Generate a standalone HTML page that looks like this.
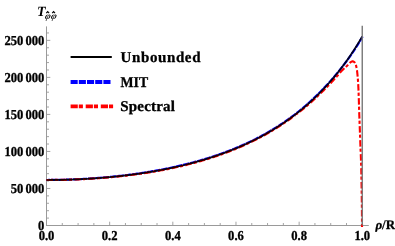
<!DOCTYPE html>
<html><head><meta charset="utf-8"><style>
html,body{margin:0;padding:0;background:#fff;}
svg{display:block;will-change:transform;}
text{font-family:"Liberation Serif",serif;font-weight:bold;fill:#000;text-rendering:geometricPrecision;}
</style></head><body>
<svg width="395" height="246" viewBox="0 0 395 246">
<rect width="395" height="246" fill="#fff"/>
<g stroke="#9a9a9a" stroke-width="1" fill="none">
<line x1="46.5" x2="46.5" y1="26.4" y2="225.5"/>
<line x1="46.0" x2="368.8" y1="225.5" y2="225.5"/>
</g>
<g stroke="#9a9a9a" stroke-width="0.9" fill="none">
<line x1="46.5" x2="50.3" y1="225.50" y2="225.50"/><line x1="46.5" x2="49.0" y1="218.09" y2="218.09"/><line x1="46.5" x2="49.0" y1="210.69" y2="210.69"/><line x1="46.5" x2="49.0" y1="203.28" y2="203.28"/><line x1="46.5" x2="49.0" y1="195.88" y2="195.88"/><line x1="46.5" x2="50.3" y1="188.47" y2="188.47"/><line x1="46.5" x2="49.0" y1="181.06" y2="181.06"/><line x1="46.5" x2="49.0" y1="173.66" y2="173.66"/><line x1="46.5" x2="49.0" y1="166.25" y2="166.25"/><line x1="46.5" x2="49.0" y1="158.85" y2="158.85"/><line x1="46.5" x2="50.3" y1="151.44" y2="151.44"/><line x1="46.5" x2="49.0" y1="144.03" y2="144.03"/><line x1="46.5" x2="49.0" y1="136.63" y2="136.63"/><line x1="46.5" x2="49.0" y1="129.22" y2="129.22"/><line x1="46.5" x2="49.0" y1="121.82" y2="121.82"/><line x1="46.5" x2="50.3" y1="114.41" y2="114.41"/><line x1="46.5" x2="49.0" y1="107.00" y2="107.00"/><line x1="46.5" x2="49.0" y1="99.60" y2="99.60"/><line x1="46.5" x2="49.0" y1="92.19" y2="92.19"/><line x1="46.5" x2="49.0" y1="84.79" y2="84.79"/><line x1="46.5" x2="50.3" y1="77.38" y2="77.38"/><line x1="46.5" x2="49.0" y1="69.97" y2="69.97"/><line x1="46.5" x2="49.0" y1="62.57" y2="62.57"/><line x1="46.5" x2="49.0" y1="55.16" y2="55.16"/><line x1="46.5" x2="49.0" y1="47.76" y2="47.76"/><line x1="46.5" x2="50.3" y1="40.35" y2="40.35"/><line x1="46.5" x2="49.0" y1="32.94" y2="32.94"/><line x1="46.50" x2="46.50" y1="225.5" y2="221.7"/><line x1="62.29" x2="62.29" y1="225.5" y2="223.0"/><line x1="78.08" x2="78.08" y1="225.5" y2="223.0"/><line x1="93.87" x2="93.87" y1="225.5" y2="223.0"/><line x1="109.66" x2="109.66" y1="225.5" y2="221.7"/><line x1="125.45" x2="125.45" y1="225.5" y2="223.0"/><line x1="141.24" x2="141.24" y1="225.5" y2="223.0"/><line x1="157.03" x2="157.03" y1="225.5" y2="223.0"/><line x1="172.82" x2="172.82" y1="225.5" y2="221.7"/><line x1="188.61" x2="188.61" y1="225.5" y2="223.0"/><line x1="204.40" x2="204.40" y1="225.5" y2="223.0"/><line x1="220.19" x2="220.19" y1="225.5" y2="223.0"/><line x1="235.98" x2="235.98" y1="225.5" y2="221.7"/><line x1="251.77" x2="251.77" y1="225.5" y2="223.0"/><line x1="267.56" x2="267.56" y1="225.5" y2="223.0"/><line x1="283.35" x2="283.35" y1="225.5" y2="223.0"/><line x1="299.14" x2="299.14" y1="225.5" y2="221.7"/><line x1="314.93" x2="314.93" y1="225.5" y2="223.0"/><line x1="330.72" x2="330.72" y1="225.5" y2="223.0"/><line x1="346.51" x2="346.51" y1="225.5" y2="223.0"/><line x1="362.30" x2="362.30" y1="225.5" y2="221.7"/>
</g>
<polyline points="46.50,179.98 47.55,179.98 48.61,179.97 49.66,179.96 50.71,179.95 51.76,179.95 52.82,179.93 53.87,179.92 54.92,179.91 55.97,179.89 57.03,179.87 58.08,179.85 59.13,179.83 60.18,179.81 61.24,179.79 62.29,179.76 63.34,179.73 64.39,179.70 65.45,179.67 66.50,179.64 67.55,179.61 68.60,179.57 69.66,179.54 70.71,179.50 71.76,179.46 72.81,179.42 73.87,179.38 74.92,179.33 75.97,179.29 77.02,179.24 78.08,179.19 79.13,179.14 80.18,179.09 81.23,179.03 82.29,178.98 83.34,178.92 84.39,178.86 85.44,178.80 86.50,178.74 87.55,178.67 88.60,178.61 89.65,178.54 90.70,178.47 91.76,178.40 92.81,178.33 93.86,178.26 94.91,178.18 95.97,178.10 97.02,178.02 98.07,177.94 99.12,177.86 100.17,177.78 101.23,177.69 102.28,177.60 103.33,177.51 104.38,177.42 105.44,177.33 106.49,177.24 107.54,177.14 108.59,177.04 109.64,176.94 110.70,176.84 111.75,176.74 112.80,176.63 113.85,176.53 114.90,176.42 115.96,176.31 117.01,176.19 118.06,176.08 119.11,175.96 120.16,175.85 121.22,175.73 122.27,175.60 123.32,175.48 124.37,175.35 125.42,175.23 126.48,175.10 127.53,174.97 128.58,174.83 129.63,174.70 130.68,174.56 131.74,174.42 132.79,174.28 133.84,174.14 134.89,173.99 135.94,173.84 136.99,173.69 138.05,173.54 139.10,173.39 140.15,173.23 141.20,173.08 142.25,172.92 143.30,172.76 144.36,172.59 145.41,172.42 146.46,172.26 147.51,172.09 148.56,171.91 149.61,171.74 150.67,171.56 151.72,171.38 152.77,171.20 153.82,171.02 154.87,170.83 155.92,170.64 156.98,170.45 158.03,170.26 159.08,170.06 160.13,169.86 161.18,169.66 162.23,169.46 163.28,169.26 164.34,169.05 165.39,168.84 166.44,168.63 167.49,168.41 168.54,168.19 169.59,167.97 170.64,167.75 171.70,167.53 172.75,167.30 173.80,167.07 174.85,166.84 175.90,166.61 176.95,166.37 178.01,166.13 179.06,165.89 180.11,165.65 181.16,165.40 182.21,165.15 183.26,164.90 184.32,164.65 185.37,164.39 186.42,164.13 187.47,163.86 188.52,163.60 189.58,163.33 190.63,163.05 191.68,162.78 192.73,162.50 193.78,162.22 194.83,161.93 195.89,161.64 196.94,161.35 197.99,161.06 199.04,160.76 200.09,160.46 201.14,160.16 202.20,159.85 203.25,159.54 204.30,159.22 205.35,158.91 206.40,158.58 207.45,158.26 208.51,157.93 209.56,157.60 210.61,157.26 211.66,156.93 212.71,156.58 213.76,156.24 214.82,155.89 215.87,155.53 216.92,155.18 217.97,154.81 219.02,154.45 220.07,154.08 221.13,153.71 222.18,153.33 223.23,152.95 224.28,152.56 225.33,152.17 226.38,151.78 227.43,151.38 228.49,150.98 229.54,150.57 230.59,150.16 231.64,149.75 232.69,149.33 233.74,148.91 234.79,148.48 235.85,148.04 236.90,147.61 237.95,147.16 239.00,146.72 240.05,146.27 241.10,145.81 242.15,145.35 243.21,144.88 244.26,144.41 245.31,143.93 246.36,143.45 247.41,142.96 248.46,142.47 249.51,141.97 250.57,141.47 251.62,140.96 252.67,140.45 253.72,139.93 254.77,139.41 255.82,138.88 256.87,138.34 257.92,137.80 258.98,137.25 260.03,136.70 261.08,136.14 262.13,135.57 263.18,135.00 264.23,134.42 265.28,133.83 266.34,133.24 267.39,132.64 268.44,132.04 269.49,131.43 270.54,130.81 271.59,130.19 272.64,129.56 273.69,128.92 274.74,128.27 275.80,127.62 276.85,126.96 277.90,126.29 278.95,125.62 280.00,124.94 281.05,124.25 282.10,123.55 283.15,122.84 284.21,122.13 285.26,121.41 286.31,120.68 287.36,119.94 288.41,119.19 289.46,118.44 290.51,117.67 291.56,116.90 292.61,116.12 293.67,115.33 294.72,114.53 295.77,113.72 296.82,112.90 297.87,112.08 298.92,111.24 299.97,110.39 301.02,109.54 302.07,108.67 303.13,107.79 304.18,106.90 305.23,106.01 306.28,105.10 307.33,104.18 308.38,103.25 309.43,102.30 310.48,101.35 311.53,100.39 312.59,99.41 313.64,98.42 314.69,97.42 315.74,96.41 316.79,95.39 317.84,94.35 318.89,93.30 319.94,92.23 320.99,91.16 322.05,90.07 323.10,88.96 324.15,87.85 325.22,86.73 326.29,85.60 327.35,84.46 328.42,83.30 329.49,82.12 330.56,80.93 331.63,79.73 332.70,78.50 333.77,77.27 334.84,76.01 335.91,74.74 336.98,73.45 338.05,72.15 339.12,70.82 340.19,69.48 341.27,68.12 342.34,66.75 343.41,65.35 344.48,63.93 345.55,62.50 346.62,61.04 347.70,59.57 348.77,58.07 349.84,56.55 350.91,55.02 351.99,53.46 353.06,51.88 354.13,50.27 355.21,48.64 356.28,46.99 357.33,45.31 358.39,43.60 359.44,41.87 360.50,40.11 361.55,38.32 362.60,36.52" fill="none" stroke="#0000ff" stroke-width="2.2" stroke-dasharray="6.6 0.8" stroke-dashoffset="3"/>
<polyline points="46.50,179.98 47.55,179.98 48.61,179.98 49.66,179.98 50.71,179.98 51.76,179.97 52.82,179.97 53.87,179.96 54.92,179.95 55.97,179.94 57.03,179.93 58.08,179.92 59.13,179.90 60.19,179.89 61.24,179.87 62.29,179.85 63.34,179.83 64.40,179.80 65.45,179.78 66.50,179.75 67.56,179.73 68.61,179.70 69.66,179.67 70.71,179.63 71.77,179.60 72.82,179.56 73.87,179.53 74.93,179.49 75.98,179.45 77.03,179.41 78.08,179.36 79.14,179.32 80.19,179.27 81.24,179.22 82.30,179.17 83.35,179.12 84.40,179.07 85.45,179.01 86.51,178.96 87.56,178.90 88.61,178.84 89.67,178.78 90.72,178.72 91.77,178.65 92.83,178.59 93.88,178.52 94.93,178.45 95.99,178.38 97.04,178.30 98.09,178.23 99.14,178.15 100.20,178.07 101.25,177.99 102.30,177.91 103.36,177.83 104.41,177.74 105.46,177.66 106.52,177.57 107.57,177.48 108.62,177.38 109.68,177.29 110.73,177.20 111.78,177.10 112.84,177.00 113.89,176.90 114.94,176.79 116.00,176.69 117.05,176.58 118.10,176.47 119.16,176.36 120.21,176.25 121.26,176.14 122.32,176.02 123.37,175.90 124.42,175.78 125.48,175.66 126.53,175.54 127.58,175.41 128.64,175.28 129.69,175.15 130.74,175.02 131.80,174.89 132.85,174.75 133.90,174.62 134.96,174.48 136.01,174.34 137.06,174.19 138.12,174.05 139.17,173.90 140.22,173.75 141.28,173.60 142.33,173.44 143.39,173.29 144.44,173.13 145.49,172.97 146.55,172.80 147.60,172.64 148.65,172.47 149.71,172.30 150.76,172.13 151.82,171.96 152.87,171.78 153.92,171.60 154.98,171.42 156.03,171.24 157.08,171.05 158.14,170.87 159.19,170.68 160.25,170.48 161.30,170.29 162.35,170.09 163.41,169.89 164.46,169.69 165.52,169.49 166.57,169.28 167.62,169.07 168.68,168.86 169.73,168.64 170.79,168.42 171.84,168.20 172.89,167.98 173.95,167.75 175.00,167.52 176.05,167.29 177.11,167.05 178.16,166.82 179.21,166.57 180.27,166.33 181.32,166.08 182.38,165.83 183.43,165.58 184.48,165.33 185.54,165.07 186.59,164.81 187.64,164.54 188.70,164.27 189.75,164.00 190.80,163.73 191.86,163.45 192.91,163.18 193.96,162.89 195.02,162.61 196.07,162.32 197.13,162.03 198.18,161.73 199.23,161.43 200.29,161.13 201.34,160.83 202.39,160.52 203.45,160.21 204.50,159.89 205.55,159.57 206.61,159.25 207.66,158.93 208.72,158.60 209.77,158.27 210.82,157.93 211.88,157.59 212.93,157.25 213.98,156.90 215.04,156.55 216.09,156.20 217.15,155.84 218.20,155.48 219.25,155.11 220.31,154.74 221.36,154.37 222.41,153.99 223.47,153.61 224.52,153.22 225.58,152.83 226.63,152.44 227.68,152.04 228.74,151.63 229.79,151.23 230.84,150.82 231.90,150.40 232.95,149.98 234.01,149.55 235.06,149.12 236.11,148.69 237.17,148.25 238.22,147.81 239.28,147.36 240.33,146.91 241.38,146.45 242.44,145.99 243.49,145.52 244.55,145.05 245.60,144.57 246.65,144.09 247.71,143.60 248.76,143.11 249.82,142.61 250.87,142.10 251.92,141.59 252.98,141.08 254.03,140.56 255.08,140.03 256.14,139.50 257.19,138.96 258.25,138.42 259.30,137.87 260.36,137.31 261.41,136.75 262.46,136.18 263.52,135.61 264.57,135.03 265.63,134.44 266.68,133.85 267.73,133.25 268.79,132.65 269.84,132.03 270.90,131.41 271.95,130.79 273.00,130.16 274.06,129.52 275.11,128.87 276.17,128.21 277.22,127.55 278.27,126.88 279.33,126.21 280.38,125.52 281.44,124.83 282.49,124.13 283.55,123.42 284.60,122.71 285.65,121.98 286.71,121.25 287.76,120.51 288.82,119.76 289.87,119.01 290.93,118.24 291.98,117.47 293.03,116.68 294.09,115.89 295.14,115.09" fill="none" stroke="#ff0000" stroke-width="2.2" stroke-dasharray="6.5 2 3.2 2.3"/>
<polyline points="296.00,114.43 296.50,114.06 296.99,113.70 297.49,113.33 297.98,112.97 298.47,112.60 298.97,112.23 299.46,111.86 299.94,111.48 300.43,111.11 300.92,110.73 301.40,110.35 301.89,109.97 302.37,109.59 302.85,109.21 303.33,108.83 303.80,108.44 304.28,108.05 304.75,107.66 305.23,107.27 305.70,106.88 306.17,106.48 306.64,106.09 307.11,105.69 307.57,105.29 308.04,104.89 308.50,104.48 308.96,104.08 309.42,103.67 309.89,103.26 310.34,102.85 310.80,102.44 311.26,102.03 311.72,101.62 312.17,101.21 312.63,100.79 313.08,100.38 313.53,99.96 313.99,99.55 314.44,99.13 314.89,98.71 315.34,98.29 315.79,97.88 316.24,97.46 316.69,97.04 317.13,96.62 317.58,96.20 318.03,95.77 318.48,95.35 318.92,94.93 319.37,94.50 319.81,94.08 320.25,93.65 320.70,93.22 321.14,92.80 321.58,92.37 322.02,91.94 322.46,91.51 322.90,91.08 323.34,90.65 323.78,90.22 324.21,89.78 324.65,89.35 325.08,88.91 325.52,88.48 325.95,88.04 326.38,87.61 326.81,87.17 327.24,86.73 327.67,86.29 328.10,85.85 328.53,85.41 328.95,84.97 329.38,84.53 329.80,84.08 330.23,83.64 330.65,83.19 331.07,82.74 331.49,82.29 331.91,81.84 332.33,81.39 332.75,80.94 333.16,80.49 333.58,80.04 333.99,79.58 334.41,79.13 334.82,78.67 335.23,78.21 335.64,77.76 336.06,77.30 336.46,76.84 336.87,76.38 337.28,75.92 337.68,75.46 338.08,74.99 338.47,74.51 338.87,74.04 339.26,73.57 339.66,73.10 340.05,72.63 340.46,72.17 340.87,71.71 341.28,71.26 341.71,70.82 342.14,70.38 342.58,69.95 343.02,69.52 343.47,69.10 343.92,68.68 344.37,68.27 344.82,67.85 345.27,67.43 345.72,67.01 346.17,66.59 346.62,66.17 347.06,65.74 347.49,65.30 347.91,64.84 348.32,64.36 348.73,63.88 349.14,63.41 349.57,62.98 350.03,62.59 350.52,62.26 351.07,61.91 351.65,61.60 352.22,61.37 352.77,61.30 353.32,61.46 353.88,61.81 354.40,62.27 354.83,62.76 355.14,63.22 355.40,63.72 355.63,64.28 355.84,64.87 356.03,65.49 356.19,66.12 356.34,66.74 356.47,67.36 356.59,67.95 356.70,68.55 356.80,69.16 356.89,69.76 356.98,70.37 357.06,70.98 357.14,71.60 357.21,72.21 357.28,72.82 357.34,73.44 357.41,74.05 357.47,74.66 357.53,75.28 357.58,75.89 357.64,76.50 357.69,77.11 357.75,77.72 357.80,78.34 357.85,78.95 357.89,79.56 357.94,80.17 357.98,80.79 358.03,81.40 358.07,82.02 358.11,82.63 358.15,83.24 358.18,83.86 358.22,84.47 358.25,85.08 358.28,85.70 358.32,86.31 358.34,86.92 358.37,87.54 358.40,88.15 358.43,88.77 358.46,89.38 358.48,89.99 358.51,90.61 358.53,91.22 358.56,91.84 358.58,92.45 358.60,93.06 358.63,93.68 358.65,94.29 358.67,94.91 358.69,95.52 358.71,96.13 358.73,96.75 358.75,97.36 358.77,97.98 358.79,98.59 358.81,99.21 358.83,99.82 358.85,100.43 358.87,101.05 358.89,101.66 358.91,102.28 358.92,102.89 358.94,103.51 358.96,104.12 358.98,104.74 359.00,105.35 359.01,105.96 359.03,106.58 359.05,107.19 359.07,107.81 359.09,108.42 359.11,109.04 359.12,109.65 359.14,110.27 359.16,110.88 359.18,111.50 359.20,112.11 359.22,112.72 359.24,113.34 359.26,113.95 359.28,114.57 359.31,115.18 359.33,115.80 359.35,116.41 359.37,117.02 359.39,117.64 359.42,118.25 359.44,118.87 359.46,119.48 359.48,120.09 359.50,120.71 359.53,121.32 359.55,121.94 359.57,122.55 359.59,123.17 359.61,123.78 359.64,124.39 359.66,125.01 359.68,125.62 359.70,126.24 359.72,126.85 359.75,127.47 359.77,128.08 359.79,128.69 359.81,129.31 359.84,129.92 359.86,130.54 359.88,131.15 359.90,131.76 359.93,132.38 359.95,132.99 359.97,133.61 359.99,134.22 360.01,134.84 360.04,135.45 360.06,136.06 360.08,136.68 360.10,137.29 360.12,137.91 360.15,138.52 360.17,139.14 360.19,139.75 360.21,140.36 360.24,140.98 360.26,141.59 360.28,142.21 360.30,142.82 360.33,143.43 360.35,144.05 360.38,144.66 360.40,145.28 360.42,145.89 360.45,146.51 360.47,147.12 360.50,147.73 360.52,148.35 360.55,148.96 360.57,149.58 360.60,150.19 360.62,150.80 360.65,151.42 360.67,152.03 360.70,152.65 360.72,153.26 360.75,153.88 360.77,154.49 360.80,155.10 360.82,155.72 360.85,156.33 360.87,156.95 360.89,157.56 360.92,158.17 360.94,158.79 360.96,159.40 360.98,160.02 361.01,160.63 361.03,161.25 361.05,161.86 361.07,162.47 361.09,163.09 361.11,163.70 361.13,164.32 361.15,164.93 361.17,165.55 361.18,166.16 361.20,166.77 361.22,167.39 361.23,168.00 361.25,168.62 361.26,169.23 361.28,169.85 361.29,170.46 361.30,171.07 361.31,171.69 361.33,172.30 361.34,172.92 361.35,173.53 361.36,174.15 361.37,174.76 361.38,175.38 361.40,175.99 361.41,176.60 361.42,177.22 361.43,177.83 361.44,178.45 361.45,179.06 361.47,179.68 361.48,180.29 361.49,180.91 361.50,181.52 361.51,182.13 361.52,182.75 361.53,183.36 361.54,183.98 361.55,184.59 361.57,185.21 361.58,185.82 361.59,186.44 361.60,187.05 361.61,187.66 361.62,188.28 361.63,188.89 361.64,189.51 361.65,190.12 361.66,190.74 361.67,191.35 361.68,191.97 361.69,192.58 361.70,193.19 361.71,193.81 361.72,194.42 361.73,195.04 361.74,195.65 361.75,196.27 361.76,196.88 361.76,197.50 361.77,198.11 361.78,198.73 361.79,199.34 361.80,199.95 361.81,200.57 361.82,201.18 361.82,201.80 361.83,202.41 361.84,203.03 361.85,203.64 361.85,204.26 361.86,204.87 361.87,205.49 361.88,206.10 361.88,206.72 361.89,207.33 361.89,207.94 361.90,208.56 361.91,209.17 361.91,209.79 361.92,210.40 361.92,211.02 361.93,211.63 361.94,212.25 361.94,212.86 361.95,213.48 361.95,214.09 361.95,214.71 361.96,215.32 361.96,215.93 361.97,216.55 361.97,217.16 361.97,217.78 361.98,218.39 361.98,219.01 361.98,219.62 361.99,220.24 361.99,220.85 361.99,221.47 361.99,222.08 361.99,222.70 362.00,223.31 362.00,223.93 362.00,224.54 362.00,225.16 362.00,225.77 362.00,226.39 362.00,227.00" fill="none" stroke="#ff0000" stroke-width="2.1" stroke-dasharray="6.5 2 3.2 2.3" stroke-dashoffset="9.50"/>
<polyline points="46.50,179.98 47.55,179.98 48.61,179.98 49.66,179.97 50.71,179.97 51.76,179.96 52.82,179.95 53.87,179.94 54.92,179.93 55.97,179.92 57.03,179.90 58.08,179.89 59.13,179.87 60.18,179.85 61.24,179.83 62.29,179.80 63.34,179.78 64.40,179.75 65.45,179.73 66.50,179.70 67.55,179.67 68.61,179.64 69.66,179.60 70.71,179.57 71.76,179.53 72.82,179.49 73.87,179.45 74.92,179.41 75.97,179.37 77.03,179.32 78.08,179.28 79.13,179.23 80.19,179.18 81.24,179.13 82.29,179.08 83.34,179.02 84.40,178.96 85.45,178.91 86.50,178.85 87.55,178.79 88.61,178.72 89.66,178.66 90.71,178.59 91.76,178.53 92.82,178.46 93.87,178.39 94.92,178.31 95.98,178.24 97.03,178.16 98.08,178.09 99.13,178.01 100.19,177.93 101.24,177.84 102.29,177.76 103.34,177.67 104.40,177.58 105.45,177.49 106.50,177.40 107.55,177.31 108.61,177.21 109.66,177.12 110.71,177.02 111.77,176.92 112.82,176.82 113.87,176.71 114.92,176.61 115.98,176.50 117.03,176.39 118.08,176.28 119.13,176.16 120.19,176.05 121.24,175.93 122.29,175.81 123.34,175.69 124.40,175.57 125.45,175.44 126.50,175.32 127.56,175.19 128.61,175.06 129.66,174.93 130.71,174.79 131.77,174.66 132.82,174.52 133.87,174.38 134.92,174.23 135.98,174.09 137.03,173.94 138.08,173.79 139.13,173.64 140.19,173.49 141.24,173.34 142.29,173.18 143.35,173.02 144.40,172.86 145.45,172.70 146.50,172.53 147.56,172.36 148.61,172.19 149.66,172.02 150.71,171.85 151.77,171.67 152.82,171.49 153.87,171.31 154.92,171.13 155.98,170.94 157.03,170.75 158.08,170.56 159.14,170.37 160.19,170.17 161.24,169.98 162.29,169.78 163.35,169.57 164.40,169.37 165.45,169.16 166.50,168.95 167.56,168.74 168.61,168.53 169.66,168.31 170.71,168.09 171.77,167.87 172.82,167.64 173.87,167.41 174.93,167.18 175.98,166.95 177.03,166.71 178.08,166.47 179.14,166.23 180.19,165.99 181.24,165.74 182.29,165.49 183.35,165.24 184.40,164.99 185.45,164.73 186.50,164.47 187.56,164.20 188.61,163.94 189.66,163.67 190.72,163.39 191.77,163.12 192.82,162.84 193.87,162.56 194.93,162.27 195.98,161.98 197.03,161.69 198.08,161.40 199.14,161.10 200.19,160.80 201.24,160.49 202.29,160.18 203.35,159.87 204.40,159.56 205.45,159.24 206.51,158.92 207.56,158.59 208.61,158.27 209.66,157.93 210.72,157.60 211.77,157.26 212.82,156.92 213.87,156.57 214.93,156.22 215.98,155.86 217.03,155.51 218.08,155.14 219.14,154.78 220.19,154.41 221.24,154.04 222.30,153.66 223.35,153.28 224.40,152.89 225.45,152.50 226.51,152.11 227.56,151.71 228.61,151.31 229.66,150.90 230.72,150.49 231.77,150.07 232.82,149.65 233.87,149.23 234.93,148.80 235.98,148.37 237.03,147.93 238.09,147.49 239.14,147.04 240.19,146.59 241.24,146.13 242.30,145.67 243.35,145.20 244.40,144.73 245.45,144.25 246.51,143.77 247.56,143.28 248.61,142.79 249.66,142.29 250.72,141.79 251.77,141.28 252.82,140.76 253.88,140.24 254.93,139.72 255.98,139.19 257.03,138.65 258.09,138.11 259.14,137.56 260.19,137.00 261.24,136.44 262.30,135.88 263.35,135.30 264.40,134.72 265.45,134.14 266.51,133.55 267.56,132.95 268.61,132.34 269.67,131.73 270.72,131.11 271.77,130.49 272.82,129.86 273.88,129.22 274.93,128.57 275.98,127.92 277.03,127.26 278.09,126.59 279.14,125.91 280.19,125.23 281.24,124.54 282.30,123.84 283.35,123.13 284.40,122.42 285.46,121.70 286.51,120.96 287.56,120.23 288.61,119.48 289.67,118.72 290.72,117.96 291.77,117.18 292.82,116.40 293.88,115.61 294.93,114.81 295.98,114.00 297.03,113.18 298.09,112.35 299.14,111.51 300.19,110.66 301.25,109.81 302.30,108.94 303.35,108.06 304.40,107.17 305.46,106.27 306.51,105.36 307.56,104.44 308.61,103.51 309.67,102.56 310.72,101.61 311.77,100.64 312.82,99.67 313.88,98.68 314.93,97.68 315.98,96.66 317.04,95.64 318.09,94.60 319.14,93.54 320.19,92.48 321.25,91.40 322.30,90.31 323.35,89.21 324.40,88.09 325.46,86.95 326.51,85.81 327.56,84.64 328.61,83.47 329.67,82.28 330.72,81.07 331.77,79.85 332.83,78.61 333.88,77.36 334.93,76.09 335.98,74.80 337.04,73.50 338.09,72.18 339.14,70.84 340.19,69.48 341.25,68.11 342.30,66.72 343.35,65.31 344.40,63.88 345.46,62.43 346.51,60.96 347.56,59.47 348.62,57.96 349.67,56.44 350.72,54.89 351.77,53.31 352.83,51.72 353.88,50.11 354.93,48.47 355.98,46.81 357.04,45.12 358.09,43.42 359.14,41.68 360.19,39.93 361.25,38.15 362.30,36.34" fill="none" stroke="#000" stroke-width="1.7" opacity="0.9"/>
<line x1="362.25" x2="362.25" y1="25.8" y2="225.5" stroke="#787878" stroke-width="1.4"/>
<g font-size="12.6px" stroke="#000" stroke-width="0.3" style="word-spacing:-1.05px">
<text transform="translate(44.4,230.10) scale(1,1.08)" text-anchor="end">0</text><text transform="translate(44.4,193.07) scale(1,1.08)" text-anchor="end">50 000</text><text transform="translate(44.4,156.04) scale(1,1.08)" text-anchor="end">100 000</text><text transform="translate(44.4,119.01) scale(1,1.08)" text-anchor="end">150 000</text><text transform="translate(44.4,81.98) scale(1,1.08)" text-anchor="end">200 000</text><text transform="translate(44.4,44.95) scale(1,1.08)" text-anchor="end">250 000</text>
<text transform="translate(46.50,239.6) scale(1,1.08)" text-anchor="middle">0.0</text><text transform="translate(109.66,239.6) scale(1,1.08)" text-anchor="middle">0.2</text><text transform="translate(172.82,239.6) scale(1,1.08)" text-anchor="middle">0.4</text><text transform="translate(235.98,239.6) scale(1,1.08)" text-anchor="middle">0.6</text><text transform="translate(299.14,239.6) scale(1,1.08)" text-anchor="middle">0.8</text><text transform="translate(362.30,239.6) scale(1,1.08)" text-anchor="middle">1.0</text>
</g>
<line x1="70.6" x2="111.8" y1="57" y2="57" stroke="#000" stroke-width="2"/>
<line x1="70.6" x2="110.8" y1="82" y2="82" stroke="#0000ff" stroke-width="3.8" stroke-dasharray="7.1 1.1"/>
<line x1="70.6" x2="113.5" y1="106.4" y2="106.4" stroke="#ff0000" stroke-width="3.6" stroke-dasharray="7.2 1.0 4.1 2.8"/>
<g font-size="15px" stroke="#000" stroke-width="0.3">
<text x="120.5" y="62" textLength="80" lengthAdjust="spacing">Unbounded</text>
<text x="120.5" y="86.6" textLength="27.6" lengthAdjust="spacingAndGlyphs">MIT</text>
<text x="120.2" y="111.2" textLength="54.8" lengthAdjust="spacing">Spectral</text>
</g>
<text x="37.0" y="15.6" font-size="14px" font-style="italic">T</text>
<g font-size="9.6px" font-style="italic">
<text transform="translate(44.6,19.2) skewX(-14)">&#966;</text>
<text transform="translate(50.5,19.2) skewX(-14)">&#966;</text>
</g>
<g fill="none" stroke="#000" stroke-width="1.1" stroke-linejoin="miter">
<path d="M46.3 13.2 L47.7 11.5 L49.1 13.2"/>
<path d="M52.2 13.2 L53.6 11.5 L55 13.2"/>
</g>
<text x="375.4" y="229.2" font-size="13px" stroke="#000" stroke-width="0.25"><tspan font-style="italic">&#961;</tspan>/R</text>
</svg>
</body></html>
